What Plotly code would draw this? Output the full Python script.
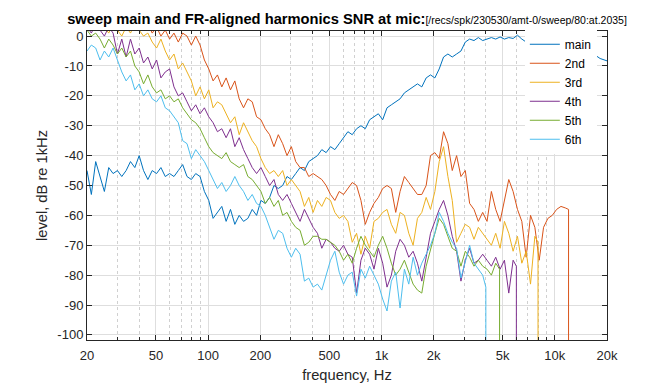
import numpy as np
import plotly.graph_objects as go

# ---------------- data ----------------
# measurement frequency grid: 1/12-octave bands starting at 20 Hz
bands_per_octave = 12
freq_hz = 20.0 * 2.0 ** (np.arange(121) / bands_per_octave)

main_db = [-45, -53, -42, -47, -52, -44, -46, -45, -47, -45,
           -42, -44, -40, -45, -48, -45, -46, -44, -47, -46,
           -47, -45, -43, -47, -48, -46, -47, -52, -55, -61,
           -59, -57, -62, -58, -63, -60, -62, -61, -58, -60,
           -55, -56, -54, -50, -51, -50, -47, -48, -46, -44,
           -45, -42, -41, -40, -38, -39, -37, -38, -36, -34,
           -32, -33, -31, -30, -31, -28, -27, -26, -28, -24,
           -23, -22, -21, -19, -18, -17, -16, -17, -14, -13,
           -14, -11, -7, -6, -7, -6, -5, -2, -1, -1.5,
           -0.5, -1.5, -1, -0.5, -1, -0.3, -1, -0.5, -0.8, 0.3,
           -1, -2, -1.8, -2.5, -2, -3, -2.5, -3, -2.5, -3,
           -2, -1.5, -0.3, -1.5, -3.5, -5, -6, -6.5, -7.5, -8,
           -8.5]

h2_db = [5, 4, 6, 3, 5, 2, 4, 3, 5, 2,
         4, 3, 5, 2, 4, 1, 3, 0, 2, -1,
         1, -2, 1, 0, -3, 0, -3, -8, -11, -15,
         -13, -17, -14, -18, -15, -21, -24, -21, -22, -27,
         -28, -31, -33, -37, -33, -36, -40, -37, -42, -44,
         -44, -47, -46, -47, -48, -50, -53, -55, -52, -53,
         -51, -49, -50, -55, -63, -59, -56, -54, -51, -50,
         -51, -59, -52, -47, -49, -51, -53, -53, -50, -40,
         -39, -41, -32, -36, -45, -40, -47, -45, -56, -58,
         -62, -59, -62, -52, -58, -62, -55, -48, -52, -58,
         -62, -74, -60, -64, -75, -64, -61, -60, -58, -57,
         -57.5]

h3_db = [4, 3, 2, 5, 3, 1, 4, 2, 0, 3,
         1, 4, 2, 0, 1, -2, -4, -1, -5, -8,
         -6, -11, -9, -12, -15, -20, -17, -21, -18, -24,
         -22, -23, -26, -29, -27, -33, -29, -32, -35, -37,
         -41, -44, -46, -45, -47, -45, -50, -48, -50, -52,
         -57, -54, -59, -55, -57, -54, -55, -59, -61, -60,
         -62, -69, -66, -73, -67, -71, -62, -61, -59, -58,
         -63, -66, -59, -60, -66, -70, -61, -59, -54, -58,
         -52, -42, -37, -47, -55, -69, -66, -63, -64, -68,
         -64, -66, -68, -70, -66, -71, -62, -66, -72, -67,
         -76, -72, -83, -67]

h4_db = [3, 1, 4, 2, 0, 3, 1, -6, -1, -7,
         -1, -6, -4, -9, -7, -11, -8, -14, -12, -11,
         -17, -20, -19, -22, -25, -23, -26, -24, -27, -29,
         -32, -31, -34, -31, -37, -34, -38, -41, -44, -46,
         -44, -47, -50, -48, -53, -55, -53, -56, -59, -62,
         -58, -61, -64, -66, -71, -68, -69, -71, -72, -70,
         -73, -74, -86, -75, -71, -73, -78, -71, -76, -84,
         -80, -72, -68, -70, -74, -72, -76, -82, -74, -66,
         -62, -58, -55, -60, -67, -72, -82, -75, -71, -76,
         -75, -73, -75, -77, -74, -78, -75, -86, -75]

h5_db = [2, 0, 1, -1, -4, -1, -3, -6, -4, -7,
         -5, -10, -12, -16, -13, -17, -19, -18, -21, -20,
         -22, -21, -24, -26, -28, -29, -31, -34, -37, -39,
         -40, -41, -39, -42, -43, -44, -43, -47, -48, -50,
         -52, -56, -54, -57, -55, -60, -59, -62, -64, -65,
         -70, -69, -67, -67, -68, -68, -69, -70, -72, -75,
         -73, -76, -71, -67, -70, -72, -74, -70, -67, -71,
         -76, -80, -78, -75, -79, -83, -85, -86, -77, -71,
         -66, -61, -63, -67, -71, -72, -77, -72, -74, -77,
         -75, -77, -78, -80, -76]

h6_db = [-5, -3, -4, -8, -5, -7, -4, -8, -12, -15,
         -13, -18, -16, -20, -18, -21, -22, -20, -24, -25,
         -27, -29, -35, -36, -41, -38, -40, -42, -45, -48,
         -51, -49, -52, -50, -47, -50, -52, -55, -53, -56,
         -57, -60, -64, -68, -65, -66, -71, -74, -71, -73,
         -82, -81, -84, -83, -85, -80, -75, -72, -79, -83,
         -80, -79, -87, -78, -81, -77, -80, -83, -88, -92,
         -82, -79, -91, -78, -83, -74, -80, -76, -73, -70,
         -66, -59, -62, -66, -69, -71, -81, -75, -70, -76,
         -78, -80]

# each harmonic ends at the Nyquist limit (24 kHz / order) where the level falls away
cutoff_hz = [12000, 8000, 6000, 4800, 4000]
cutoff_db = [-58, -69, -77, -78, -84]
floor_db = -150

series_names = ["main", "2nd", "3rd", "4th", "5th", "6th"]
series_colors = ["#0072BD", "#D95319", "#EDB120", "#7E2F8E", "#77AC30", "#4DBEEE"]

x_tick_vals = [20, 50, 100, 200, 500, 1000, 2000, 5000, 10000, 20000]
x_tick_text = ["20", "50", "100", "200", "500", "1k", "2k", "5k", "10k", "20k"]
x_minor_vals = [30, 40, 60, 70, 80, 90, 300, 400, 600, 700, 800, 900,
                3000, 4000, 6000, 7000, 8000, 9000]
y_tick_vals = [0, -10, -20, -30, -40, -50, -60, -70, -80, -90, -100]
y_tick_text = ["0", "-10", "-20", "-30", "-40", "-50", "-60", "-70", "-80", "-90", "-100"]

# ---------------- figure ----------------
fig = go.Figure()
fig.add_trace(go.Scatter(x=freq_hz, y=main_db, mode="lines", name=series_names[0],
                         line=dict(color=series_colors[0], width=1)))

harmonics = [h2_db, h3_db, h4_db, h5_db, h6_db]
for i, vals in enumerate(harmonics):
    xs = list(freq_hz[:len(vals)]) + [cutoff_hz[i], cutoff_hz[i]]
    ys = list(vals) + [cutoff_db[i], floor_db]
    fig.add_trace(go.Scatter(x=xs, y=ys, mode="lines", name=series_names[i + 1],
                             line=dict(color=series_colors[i + 1], width=1)))

axis_col = "#262626"
fig.update_layout(
    width=672, height=384,
    margin=dict(l=87, r=65, t=31, b=44),
    paper_bgcolor="white", plot_bgcolor="white",
    font=dict(family="Liberation Sans, Arial, sans-serif", size=13, color=axis_col),
    title=dict(
        text="<b>sweep main and FR-aligned harmonics SNR at mic:</b>"
             "<span style='font-size:10.5px'>[/recs/spk/230530/amt-0/sweep/80:at.2035]</span>",
        x=0.5, xref="paper", xanchor="center",
        y=1 - 19 / 384, yref="container", yanchor="middle",
        font=dict(size=14.7, color="black"),
    ),
    legend=dict(x=0.842, y=1.004, xanchor="left", yanchor="top",
                bgcolor="white", borderwidth=0, font=dict(size=12, color="black"),
                tracegroupgap=0),
)

fig.update_xaxes(
    type="log", range=[np.log10(20), np.log10(20000)],
    tickmode="array", tickvals=x_tick_vals, ticktext=x_tick_text,
    ticks="inside", ticklen=5, tickcolor=axis_col, tickwidth=1,
    ticklabelstandoff=3,
    showline=True, linecolor=axis_col, linewidth=1, mirror="ticks",
    showgrid=True, gridcolor="#dedede", gridwidth=1, zeroline=False,
    minor=dict(tickmode="array", tickvals=x_minor_vals, ticks="inside", ticklen=3,
               tickcolor=axis_col, showgrid=True, gridcolor="#d0d0d0",
               griddash="dot", gridwidth=1),
    title=dict(text="frequency, Hz", font=dict(size=14.7), standoff=8),
    automargin=False,
)
fig.update_yaxes(
    range=[-101.7, 1.7],
    tickmode="array", tickvals=y_tick_vals, ticktext=y_tick_text,
    ticks="inside", ticklen=5, tickcolor=axis_col, tickwidth=1,
    showline=True, linecolor=axis_col, linewidth=1, mirror="ticks",
    showgrid=True, gridcolor="#dedede", gridwidth=1, zeroline=False,
    title=dict(text="level, dB re 1kHz", font=dict(size=14.7), standoff=6),
    automargin=False,
)

fig.write_html("out.html", config={"displayModeBar": False},
               post_script="document.body.style.margin='0px';")
